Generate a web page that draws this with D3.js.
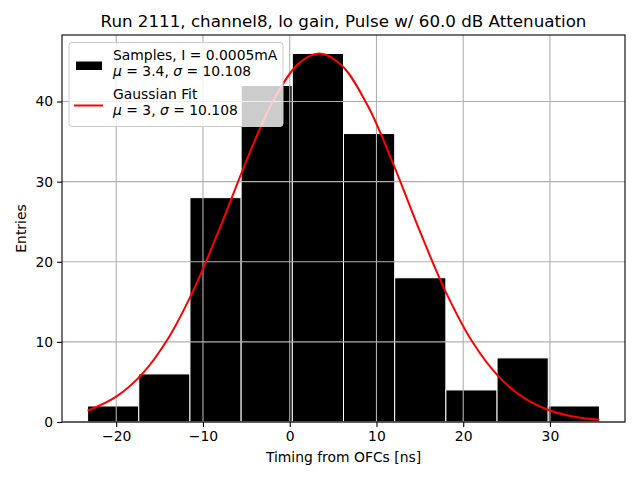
<!DOCTYPE html>
<html>
<head>
<meta charset="utf-8">
<script src="https://cdn.jsdelivr.net/npm/d3@7"></script>
<style>
  body { margin: 0; background: #fff; }
  svg { display: block; font-family: "DejaVu Sans", sans-serif; }
</style>
</head>
<body>
<div id="chart"></div>
<script>
// histogram bins (edges) and counts
const binEdges = [-23.3, -17.4, -11.5, -5.6, 0.3, 6.2, 12.1, 18.0, 23.9, 29.8, 35.7];
const counts = [2, 6, 28, 42, 46, 36, 18, 4, 8, 2];

// gaussian fit curve
const fitX = [-23.3, -20, -17, -14, -11, -8, -5, -2, 1, 3.4, 6, 9, 12, 15, 18, 21, 24, 27, 30, 33, 35.7];
const fitY = [1.40, 3.16, 6.00, 10.45, 16.67, 24.35, 32.57, 39.88, 44.72, 46.0, 44.50, 39.46, 32.03, 23.81, 16.21, 10.10, 5.77, 3.01, 1.44, 0.63, 0.28];

const xTicks = [-20, -10, 0, 10, 20, 30];
const yTicks = [0, 10, 20, 30, 40];

const width = 640;
const height = 480;
const margin = { top: 35, right: 15, bottom: 58, left: 62 };
const innerWidth = width - margin.left - margin.right;
const innerHeight = height - margin.top - margin.bottom;
const fs = "13.9px";

const svg = d3.select("#chart")
  .append("svg")
  .attr("width", width)
  .attr("height", height);

const span = binEdges[binEdges.length - 1] - binEdges[0];
const xScale = d3.scaleLinear()
  .domain([binEdges[0] - span * 0.05, binEdges[binEdges.length - 1] + span * 0.05])
  .range([0, innerWidth]);

const yScale = d3.scaleLinear()
  .domain([0, d3.max(counts) * 1.05])
  .range([innerHeight, 0]);

const g = svg.append("g")
  .attr("transform", `translate(${margin.left}, ${margin.top})`);

// bars
const bins = counts.map((c, i) => ({ x0: binEdges[i], x1: binEdges[i + 1], n: c }));
g.selectAll(".bar")
  .data(bins)
  .join("rect")
  .attr("class", "bar")
  .attr("x", d => xScale(d.x0))
  .attr("y", d => yScale(d.n))
  .attr("width", d => xScale(d.x1) - xScale(d.x0))
  .attr("height", d => yScale(0) - yScale(d.n))
  .attr("fill", "#000")
  .attr("stroke", "#fff")
  .attr("stroke-width", 1);

// grid (drawn over the bars, as in the original)
g.selectAll(".vgrid")
  .data(xTicks)
  .join("line")
  .attr("x1", d => xScale(d)).attr("x2", d => xScale(d))
  .attr("y1", 0).attr("y2", innerHeight)
  .attr("stroke", "#b0b0b0").attr("stroke-width", 1.1);

g.selectAll(".hgrid")
  .data(yTicks)
  .join("line")
  .attr("x1", 0).attr("x2", innerWidth)
  .attr("y1", d => yScale(d)).attr("y2", d => yScale(d))
  .attr("stroke", "#b0b0b0").attr("stroke-width", 1.1);

// fit line
const line = d3.line()
  .x(d => xScale(d[0]))
  .y(d => yScale(d[1]))
  .curve(d3.curveCatmullRom);

g.append("path")
  .datum(fitX.map((x, i) => [x, fitY[i]]))
  .attr("d", line)
  .attr("fill", "none")
  .attr("stroke", "red")
  .attr("stroke-width", 2);

// axes
const bottomAxis = d3.axisBottom(xScale)
  .tickValues(xTicks)
  .tickFormat(d => d < 0 ? "\u2212" + Math.abs(d) : d)
  .tickSizeOuter(0)
  .tickSize(4.9)
  .tickPadding(4);
const xAxisG = g.append("g")
  .attr("transform", `translate(0, ${innerHeight})`)
  .call(bottomAxis);

const leftAxis = d3.axisLeft(yScale)
  .tickValues(yTicks)
  .tickSizeOuter(0)
  .tickSize(4.9)
  .tickPadding(4);
const yAxisG = g.append("g").call(leftAxis);

[xAxisG, yAxisG].forEach(a => {
  a.select(".domain").remove();
  a.selectAll("text").attr("font-size", fs).attr("fill", "#000")
    .attr("font-family", "DejaVu Sans, sans-serif");
  a.selectAll("line").attr("stroke", "#000").attr("stroke-width", 1.1);
});

// frame
g.append("rect")
  .attr("width", innerWidth)
  .attr("height", innerHeight)
  .attr("fill", "none")
  .attr("stroke", "#000")
  .attr("stroke-width", 1.1);

// labels
svg.append("text")
  .attr("x", margin.left + innerWidth / 2)
  .attr("y", 27)
  .attr("text-anchor", "middle")
  .attr("font-size", "16.7px")
  .attr("fill", "#000")
  .text("Run 2111, channel8, lo gain, Pulse w/ 60.0 dB Attenuation");

svg.append("text")
  .attr("x", margin.left + innerWidth / 2)
  .attr("y", 462)
  .attr("text-anchor", "middle")
  .attr("font-size", fs)
  .attr("fill", "#000")
  .text("Timing from OFCs [ns]");

svg.append("text")
  .attr("transform", `translate(26, ${margin.top + innerHeight / 2}) rotate(-90)`)
  .attr("text-anchor", "middle")
  .attr("font-size", fs)
  .attr("fill", "#000")
  .text("Entries");

// legend
const legend = g.append("g").attr("transform", "translate(7, 7.5)");
legend.append("rect")
  .attr("width", 214)
  .attr("height", 84)
  .attr("rx", 3)
  .attr("fill", "#fff")
  .attr("fill-opacity", 0.8)
  .attr("stroke", "#cccccc")
  .attr("stroke-width", 1);

legend.append("rect")
  .attr("x", 7).attr("y", 19)
  .attr("width", 26).attr("height", 8.5)
  .attr("fill", "#000");

legend.append("line")
  .attr("x1", 5).attr("x2", 34)
  .attr("y1", 63).attr("y2", 63)
  .attr("stroke", "red").attr("stroke-width", 2);

const legendLines = [
  { y: 17.5, parts: [["Samples, I = 0.0005mA", false]] },
  { y: 33.5, parts: [["\u03bc", true], [" = 3.4, ", false], ["\u03c3", true], [" = 10.108", false]] },
  { y: 56.5, parts: [["Gaussian Fit", false]] },
  { y: 72.5, parts: [["\u03bc", true], [" = 3, ", false], ["\u03c3", true], [" = 10.108", false]] }
];
legendLines.forEach(l => {
  const t = legend.append("text")
    .attr("x", 44)
    .attr("y", l.y)
    .attr("font-size", fs)
    .attr("fill", "#000")
    .attr("xml:space", "preserve")
    .style("white-space", "pre");
  l.parts.forEach(p => {
    t.append("tspan")
      .attr("font-style", p[1] ? "italic" : "normal")
      .text(p[0]);
  });
});
</script>
</body>
</html>
